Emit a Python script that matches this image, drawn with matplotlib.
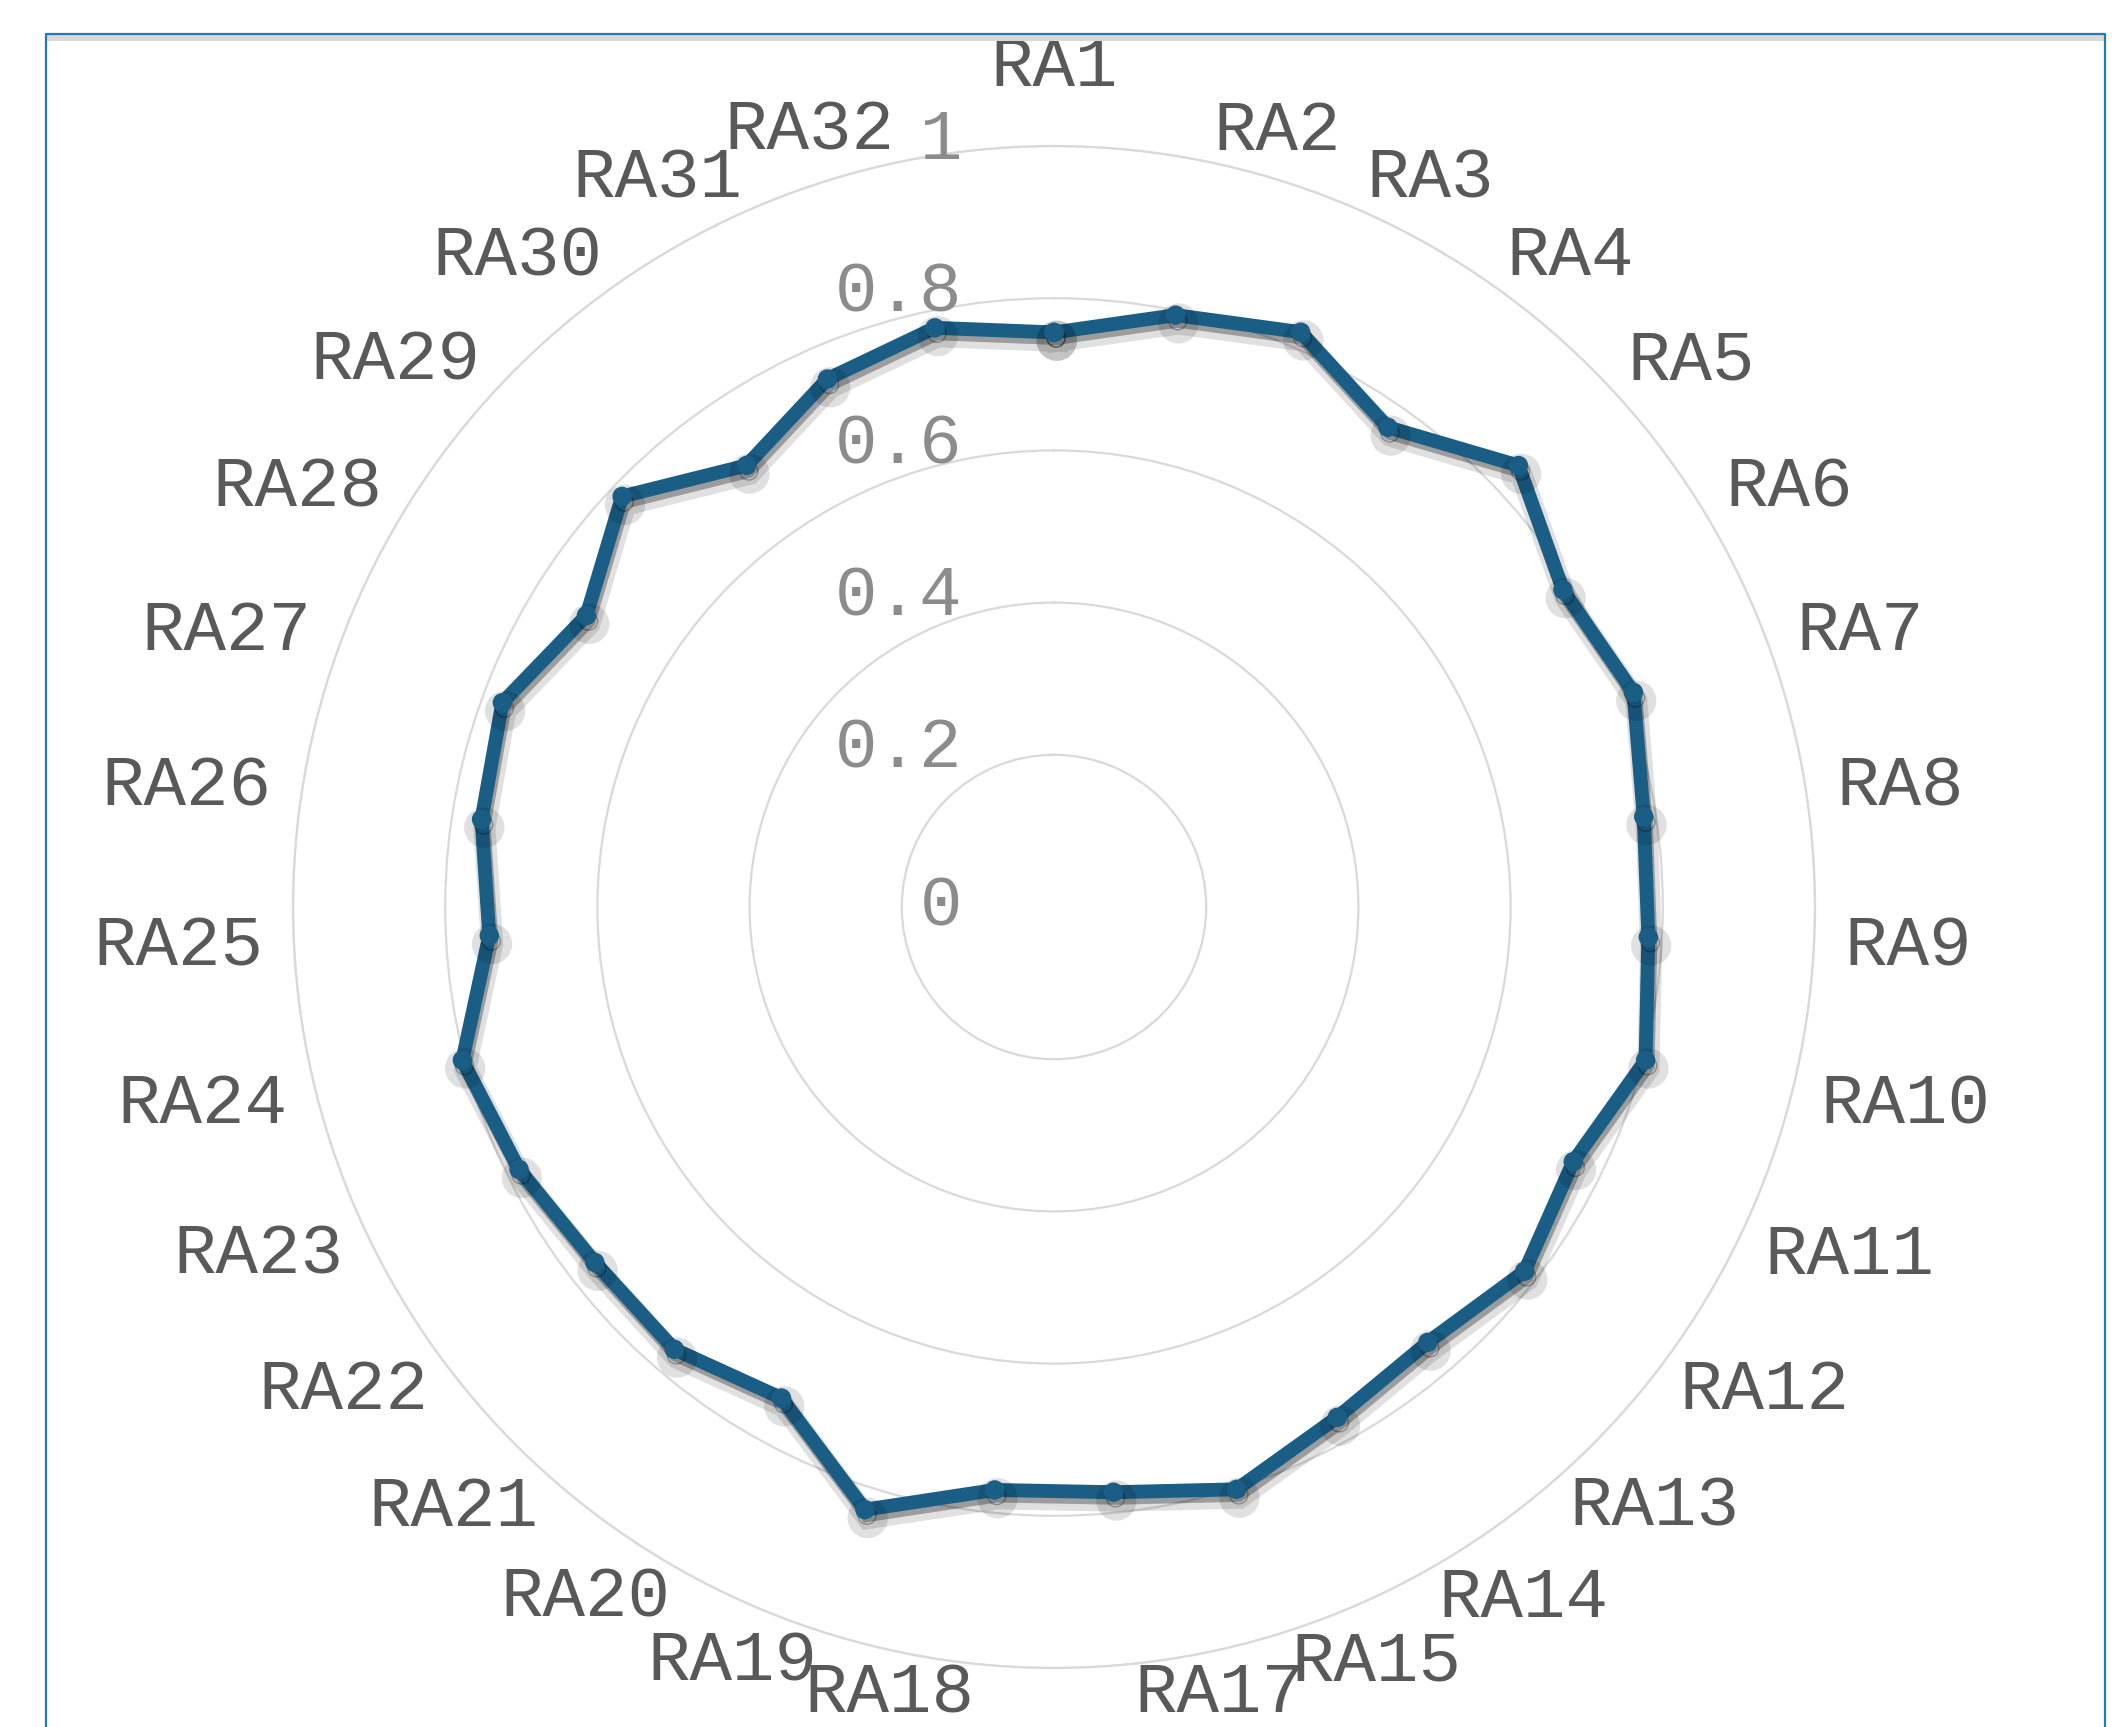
import numpy as np
import matplotlib
matplotlib.use('Agg')
import matplotlib.pyplot as plt
import matplotlib.patheffects as pe
from matplotlib.lines import Line2D
from matplotlib.patches import Rectangle
from matplotlib.transforms import offset_copy

# ── 데이터 ─────────────────────────────────────────────
categories = ['RA1', 'RA2', 'RA3', 'RA4', 'RA5', 'RA6', 'RA7', 'RA8', 'RA9', 'RA10',
              'RA11', 'RA12', 'RA13', 'RA14', 'RA15', 'RA17', 'RA18', 'RA19', 'RA20',
              'RA21', 'RA22', 'RA23', 'RA24', 'RA25', 'RA26', 'RA27', 'RA28', 'RA29',
              'RA30', 'RA31', 'RA32']
values = [0.755, 0.794, 0.822, 0.768, 0.842, 0.788, 0.812, 0.784, 0.782, 0.803,
          0.760, 0.782, 0.754, 0.767, 0.802, 0.773, 0.770, 0.830, 0.738,
          0.766, 0.763, 0.783, 0.803, 0.743, 0.761, 0.773, 0.724, 0.783,
          0.707, 0.755, 0.777]
r_ticks = [0, 0.2, 0.4, 0.6, 0.8, 1.0]
r_tick_labels = ['0', '0.2', '0.4', '0.6', '0.8', '1']

LINE_COLOR = '#1a5e86'
GRID_COLOR = '#d9d9d9'
FONT = ['Liberation Mono', 'DejaVu Sans Mono']
FS = 51

W, H = 2118, 1727
fig = plt.figure(figsize=(W / 100, H / 100), dpi=100)
fig.patch.set_facecolor('white')

# 차트 영역 테두리
x0, x1, ytop = 46 / W, 2105 / W, 1 - 34 / H
fig.add_artist(Rectangle((47 / W, 1 - 40.5 / H), (2104 - 47) / W, 5.5 / H,
                         transform=fig.transFigure, color=GRID_COLOR, lw=0))
fig.add_artist(Line2D([x0, x0, x1, x1], [-0.01, ytop, ytop, -0.01],
                      transform=fig.transFigure, color='#1f7bb4', lw=1.6))

# 극좌표 축: 중심 (1054, 907), 반지름 761 px
cx, cy, R = 1054, 907, 761
ax = fig.add_axes([(cx - R) / W, (H - cy - R) / H, 2 * R / W, 2 * R / H], polar=True)
ax.set_theta_zero_location('N')
ax.set_theta_direction(-1)
ax.set_ylim(0, 1)
ax.set_facecolor('none')

theta = np.linspace(0, 2 * np.pi, len(categories), endpoint=False)
ax.set_xticks([])
ax.set_yticks(r_ticks[1:])
ax.set_yticklabels([])
ax.yaxis.grid(True, color=GRID_COLOR, lw=1.6)
ax.spines['polar'].set_color(GRID_COLOR)
ax.spines['polar'].set_linewidth(1.6)

# 데이터 선
t_closed = np.append(theta, theta[0])
v_closed = np.append(values, values[0])
ax.plot(t_closed, v_closed, color=LINE_COLOR, lw=10, marker='o', markersize=13,
        solid_joinstyle='miter', zorder=5,
        path_effects=[pe.SimpleLineShadow(offset=(2, -6), shadow_color='black', alpha=0.12,
                                          linewidth=16),
                      pe.SimpleLineShadow(offset=(1.5, -4), shadow_color='black', alpha=0.3),
                      pe.Normal()])

# 반지름 눈금 라벨
for r, lab in zip(r_ticks, r_tick_labels):
    tr = offset_copy(ax.transData, fig=fig, x=-92, y=5 if r > 0 else 0, units='dots')
    ax.text(0, r, lab, transform=tr, ha='right', va='center', fontsize=FS,
            color='#8c8c8c', family=FONT)

# 항목 라벨
for t, lab in zip(theta, categories):
    s = np.sin(t)
    if abs(s) < 0.05:
        ax.text(t, 1.079, lab, ha='center', va='baseline', fontsize=FS,
                color='#595959', family=FONT)
    else:
        ax.text(t, 1.04, lab, ha='left' if s > 0 else 'right', va='center',
                fontsize=FS, color='#595959', family=FONT)

fig.savefig('out.png', dpi=100, facecolor='white')
